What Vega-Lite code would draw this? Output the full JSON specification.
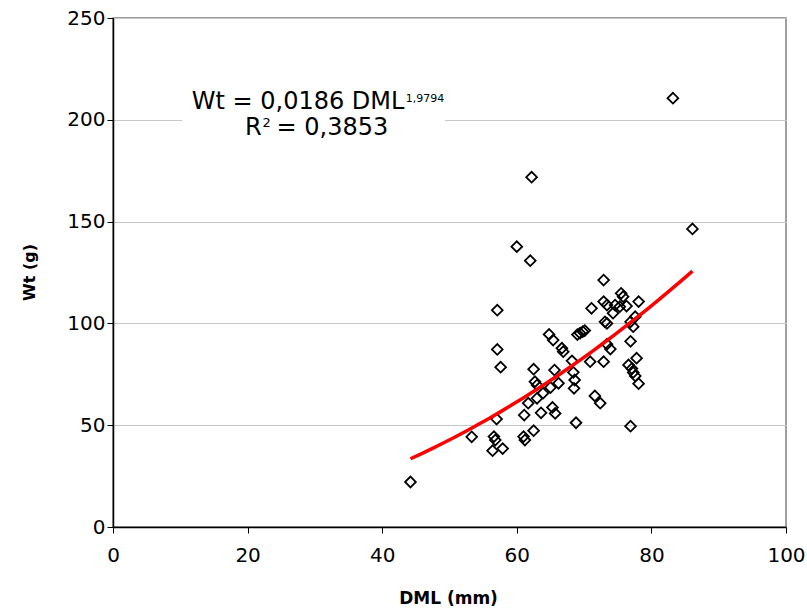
{
  "$schema": "https://vega.github.io/schema/vega-lite/v6.json",
  "width": 673,
  "height": 509,
  "autosize": {"type": "none"},
  "padding": {"left": 113, "top": 18, "right": 21, "bottom": 87},
  "background": "white",
  "config": {
    "font": "DejaVu Sans",
    "view": {"stroke": "#808080", "strokeWidth": 1.5}
  },
  "datasets": {
    "pts": [
      {"DML": 44.2, "Wt": 22.1}, {"DML": 53.3, "Wt": 44.3}, {"DML": 56.6, "Wt": 44.4}, {"DML": 56.8, "Wt": 42.7},
      {"DML": 56.4, "Wt": 37.5}, {"DML": 57.9, "Wt": 38.5}, {"DML": 57.0, "Wt": 53.0}, {"DML": 57.1, "Wt": 87.2},
      {"DML": 57.6, "Wt": 78.5}, {"DML": 57.1, "Wt": 106.5}, {"DML": 60.0, "Wt": 137.7}, {"DML": 62.0, "Wt": 130.8},
      {"DML": 62.2, "Wt": 171.8}, {"DML": 61.0, "Wt": 44.4}, {"DML": 61.2, "Wt": 42.7}, {"DML": 62.5, "Wt": 47.3},
      {"DML": 61.1, "Wt": 55.0}, {"DML": 61.7, "Wt": 60.8}, {"DML": 63.0, "Wt": 63.2}, {"DML": 63.6, "Wt": 56.1},
      {"DML": 62.5, "Wt": 77.5}, {"DML": 62.7, "Wt": 71.4}, {"DML": 63.0, "Wt": 69.7}, {"DML": 63.9, "Wt": 65.7},
      {"DML": 65.0, "Wt": 68.5}, {"DML": 65.3, "Wt": 58.7}, {"DML": 65.7, "Wt": 55.8}, {"DML": 64.8, "Wt": 94.6},
      {"DML": 65.4, "Wt": 91.8}, {"DML": 65.6, "Wt": 77.1}, {"DML": 66.2, "Wt": 70.6}, {"DML": 66.7, "Wt": 87.8},
      {"DML": 66.9, "Wt": 86.1}, {"DML": 68.2, "Wt": 81.6}, {"DML": 68.4, "Wt": 76.0}, {"DML": 68.6, "Wt": 72.2},
      {"DML": 68.5, "Wt": 68.1}, {"DML": 68.8, "Wt": 51.2}, {"DML": 69.0, "Wt": 94.5}, {"DML": 69.4, "Wt": 95.2},
      {"DML": 69.8, "Wt": 96.0}, {"DML": 70.1, "Wt": 96.5}, {"DML": 70.9, "Wt": 81.2}, {"DML": 71.1, "Wt": 107.4},
      {"DML": 71.6, "Wt": 64.4}, {"DML": 72.4, "Wt": 60.8}, {"DML": 72.9, "Wt": 121.3}, {"DML": 72.9, "Wt": 110.7},
      {"DML": 73.4, "Wt": 109.0}, {"DML": 72.9, "Wt": 81.2}, {"DML": 73.1, "Wt": 100.8}, {"DML": 73.4, "Wt": 100.0},
      {"DML": 73.4, "Wt": 89.8}, {"DML": 73.9, "Wt": 87.4}, {"DML": 74.3, "Wt": 105.0}, {"DML": 74.6, "Wt": 109.0},
      {"DML": 75.3, "Wt": 108.2}, {"DML": 75.5, "Wt": 114.8}, {"DML": 75.8, "Wt": 113.1}, {"DML": 76.3, "Wt": 108.5},
      {"DML": 76.9, "Wt": 100.8}, {"DML": 77.3, "Wt": 98.4}, {"DML": 77.6, "Wt": 103.3}, {"DML": 78.1, "Wt": 110.7},
      {"DML": 76.9, "Wt": 91.2}, {"DML": 77.8, "Wt": 82.9}, {"DML": 76.6, "Wt": 79.6}, {"DML": 77.1, "Wt": 77.8},
      {"DML": 77.3, "Wt": 75.9}, {"DML": 77.6, "Wt": 74.2}, {"DML": 78.1, "Wt": 70.4}, {"DML": 76.9, "Wt": 49.5},
      {"DML": 83.2, "Wt": 210.6}, {"DML": 86.1, "Wt": 146.4}
    ],
    "box": [{"DML": 10.3, "DML2": 49.3, "Wt": 181, "Wt2": 219}],
    "eq": [
      {"part": "main", "DML": 43.3, "Wt": 205.3, "t": "Wt = 0,0186 DML"},
      {"part": "sup", "DML": 43.5, "Wt": 208.8, "t": "1,9794"},
      {"part": "r", "DML": 22.1, "Wt": 192.5, "t": "R"},
      {"part": "sup2", "DML": 22.2, "Wt": 196.4, "t": "2"},
      {"part": "rest", "DML": 24.3, "Wt": 192.5, "t": "= 0,3853"}
    ]
  },
  "encoding": {
    "x": {
      "field": "DML", "type": "quantitative",
      "scale": {"domain": [0, 100], "nice": false, "zero": false},
      "axis": {
        "title": "DML (mm)", "values": [0, 20, 40, 60, 80, 100], "grid": false,
        "tickSize": 6, "tickColor": "#000", "domainColor": "#000", "domainWidth": 1.5,
        "labelPadding": 12, "labelFontSize": 20, "labelColor": "#000", "labelFlush": false,
        "titleFontSize": 17, "titleFontWeight": "bold", "titleColor": "#000",
        "titleX": 335, "titleY": 71, "titleBaseline": "middle"
      }
    },
    "y": {
      "field": "Wt", "type": "quantitative",
      "scale": {"domain": [0, 250], "nice": false, "zero": false},
      "axis": {
        "title": "Wt (g)", "values": [0, 50, 100, 150, 200, 250], "grid": true, "gridColor": "#c8c8c8", "gridWidth": 1,
        "tickSize": 6, "tickColor": "#000", "domainColor": "#000", "domainWidth": 1.5,
        "labelPadding": 2, "labelFontSize": 20, "labelColor": "#000", "labelFlush": false,
        "titleFontSize": 16, "titleFontWeight": "bold", "titleColor": "#000",
        "titleX": -84, "titleY": 254, "titleBaseline": "middle", "titleAngle": -90
      }
    }
  },
  "layer": [
    {
      "data": {"name": "pts"},
      "mark": {"type": "point", "shape": "diamond", "size": 115, "stroke": "#000", "strokeWidth": 1.8, "filled": false, "opacity": 1}
    },
    {
      "data": {"name": "pts"},
      "transform": [{"regression": "Wt", "on": "DML", "method": "pow"}],
      "mark": {"type": "line", "color": "#ff0000", "strokeWidth": 3.5}
    },
    {
      "data": {"name": "box"},
      "mark": {"type": "rect", "fill": "white"},
      "encoding": {"x2": {"field": "DML2"}, "y2": {"field": "Wt2"}}
    },
    {
      "data": {"name": "eq"},
      "transform": [{"filter": "datum.part === 'main' || datum.part === 'r'"}],
      "mark": {"type": "text", "align": "right", "baseline": "alphabetic", "fontSize": 24, "color": "#000"},
      "encoding": {"text": {"field": "t"}}
    },
    {
      "data": {"name": "eq"},
      "transform": [{"filter": "datum.part === 'rest'"}],
      "mark": {"type": "text", "align": "left", "baseline": "alphabetic", "fontSize": 24, "color": "#000"},
      "encoding": {"text": {"field": "t"}}
    },
    {
      "data": {"name": "eq"},
      "transform": [{"filter": "datum.part === 'sup'"}],
      "mark": {"type": "text", "align": "left", "baseline": "alphabetic", "fontSize": 11, "color": "#000"},
      "encoding": {"text": {"field": "t"}}
    },
    {
      "data": {"name": "eq"},
      "transform": [{"filter": "datum.part === 'sup2'"}],
      "mark": {"type": "text", "align": "left", "baseline": "alphabetic", "fontSize": 13, "color": "#000"},
      "encoding": {"text": {"field": "t"}}
    }
  ]
}
